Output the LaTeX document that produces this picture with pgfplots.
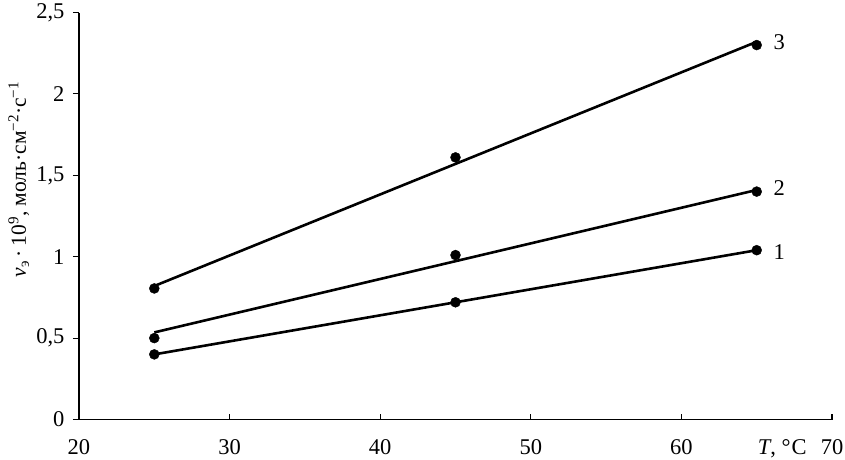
\documentclass[border=0pt]{standalone}
\usepackage{fontspec}
\setmainfont{Liberation Serif}
\usepackage{pgfplots}
\pgfplotsset{compat=1.18}

\begin{document}
\begin{tikzpicture}
\begin{axis}[
  scale only axis,
  width=753pt, height=407pt,
  xmin=20, xmax=70, ymin=0, ymax=2.5,
  axis lines*=left,
  axis line style={line width=1.4pt},
  xtick={20,30,40,50,60,70},
  ytick={0,0.5,1,1.5,2,2.5},
  xtick align=inside, ytick align=outside,
  major tick length=6pt,
  every tick/.style={black, line width=1.1pt},
  /pgf/number format/use comma,
  /pgf/number format/assume math mode=true,
  tick label style={font=\fontsize{22.5}{26}\selectfont},
  xticklabel style={inner sep=1pt, yshift=-19pt},
  yticklabel style={xshift=-5pt},
  xlabel={\textit{T}, °\kern1pt C},
  xlabel style={at={(axis description cs:0.934,0)}, anchor=north, yshift=-19pt,
    inner sep=1pt, font=\fontsize{22.5}{26}\selectfont},
  ylabel={\textit{v}\textsubscript{э}\,·\,10\textsuperscript{9}, моль·см\textsuperscript{−2}·с\textsuperscript{−1}},
  ylabel style={at={(axis description cs:-0.080,0.59)}, anchor=center,
    font=\fontsize{21.5}{24}\selectfont},
  clip=false,
]
% series 1
\addplot[only marks, mark=*, mark size=5pt, black] coordinates {(25,0.40) (45,0.72) (65,1.04)};
\addplot[black, line width=2.6pt] coordinates {(25,0.40) (65,1.04)};
% series 2
\addplot[only marks, mark=*, mark size=5pt, black] coordinates {(25,0.50) (45,1.01) (65,1.40)};
\addplot[black, line width=2.6pt] coordinates {(25,0.535) (65,1.41)};
% series 3
\addplot[only marks, mark=*, mark size=5pt, black] coordinates {(25,0.805) (45,1.61) (65,2.30)};
\addplot[black, line width=2.6pt] coordinates {(25,0.82) (65,2.32)};
\node[font=\fontsize{22.5}{26}\selectfont] at (axis cs:66.5,1.03) {1};
\node[font=\fontsize{22.5}{26}\selectfont] at (axis cs:66.5,1.42) {2};
\node[font=\fontsize{22.5}{26}\selectfont] at (axis cs:66.5,2.32) {3};
\end{axis}
\path ([shift={(-79pt,-40pt)}]current axis.south west)
  rectangle ([shift={(13pt,11pt)}]current axis.north east);
\end{tikzpicture}
\end{document}
